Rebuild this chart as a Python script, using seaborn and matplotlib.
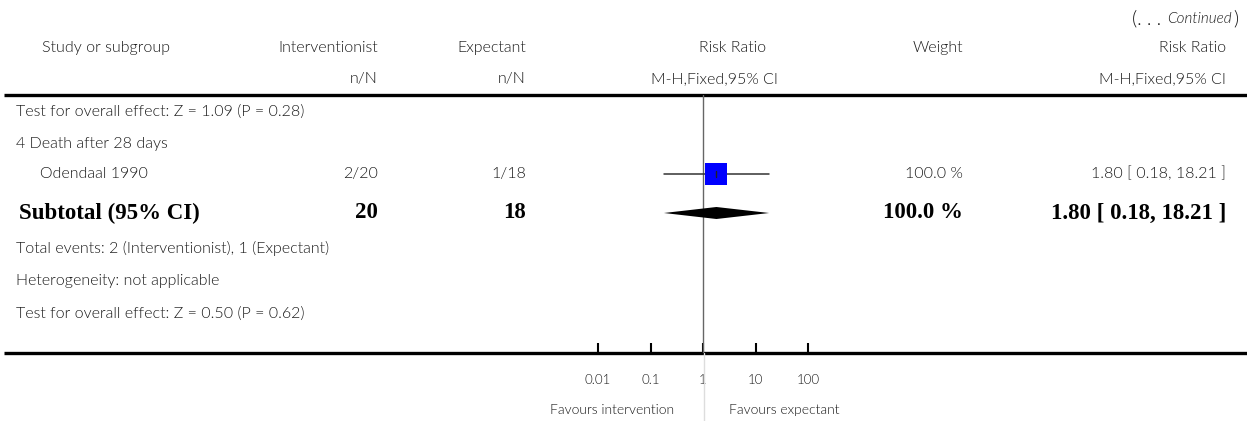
import matplotlib
matplotlib.use("Agg")
import matplotlib.pyplot as plt
import seaborn as sns
import numpy as np
import pandas as pd

# ---------------- data ----------------
study_names = ["Odendaal 1990"]
int_events = [2]
int_totals = [20]
exp_events = [1]
exp_totals = [18]
risk_ratios = [1.80]
ci_lows = [0.18]
ci_highs = [18.21]
weights = [100.0]

subtotal_int_n = 20
subtotal_exp_n = 18
subtotal_rr = 1.80
subtotal_low = 0.18
subtotal_high = 18.21
subtotal_weight = 100.0

tick_values = [0.01, 0.1, 1, 10, 100]
tick_labels = ["0.01", "0.1", "1", "10", "100"]

header1 = ["Study or subgroup", "Interventionist", "Expectant", "Risk Ratio", "Weight", "Risk Ratio"]
header2 = ["n/N", "n/N", "M-H,Fixed,95% CI", "M-H,Fixed,95% CI"]
prev_test = "Test for overall effect: Z = 1.09 (P = 0.28)"
subgroup_title = "4 Death after 28 days"
total_events_txt = "Total events: 2 (Interventionist), 1 (Expectant)"
heterogeneity_txt = "Heterogeneity: not applicable"
overall_test_txt = "Test for overall effect: Z = 0.50 (P = 0.62)"
fav_left = "Favours intervention"
fav_right = "Favours expectant"

# ---------------- figure ----------------
sns.set_theme(style="white")
plt.rcParams["font.family"] = ["Lato", "DejaVu Sans"]

W, H = 1247, 421
fig = plt.figure(figsize=(W / 100, H / 100), dpi=100)
bg = fig.add_axes([0, 0, 1, 1])
bg.set_xlim(0, W)
bg.set_ylim(H, 0)
bg.axis("off")

TXT = "#1a1a1a"
FS = 11.5
BFS = 16.5
REG = dict(fontsize=FS, color=TXT, fontweight=300)
serif_bold = dict(family=["Liberation Serif", "DejaVu Serif"], weight="bold", fontsize=BFS, color="black")

# column anchors (pixels)
X_STUDY_HDR = 42
X_LEFT = 16
X_STUDY = 40
X_INT = 378
X_EXP = 526
X_RR_HDR = 766
X_MH_HDR = 778
X_W = 963
X_RR = 1226

Y_H1, Y_H2 = 48, 79
Y_TOP_LINE, Y_BOT_LINE = 95, 353
rows = {"prev": 112, "sub": 144, "study": 174, "subtotal": 213,
        "events": 248, "het": 281, "test": 314}

# continued note
t_close = bg.text(1238, 19, ")", ha="right", va="center", fontsize=14, color=TXT, fontweight=300)
t_cont = bg.annotate("Continued", xy=(0, 0.5), xycoords=t_close, xytext=(-0.5, 0),
                     textcoords="offset points", ha="right", va="center", fontsize=11,
                     style="italic", color=TXT, fontweight=300)
bg.annotate("(. . . ", xy=(0, 0.5), xycoords=t_cont, xytext=(-1, 0), textcoords="offset points",
            ha="right", va="center", fontsize=14, color=TXT, fontweight=300)

# headers
bg.text(X_STUDY_HDR, Y_H1, header1[0], ha="left", va="center", **REG)
bg.text(X_INT, Y_H1, header1[1], ha="right", va="center", **REG)
bg.text(X_EXP, Y_H1, header1[2], ha="right", va="center", **REG)
bg.text(X_RR_HDR, Y_H1, header1[3], ha="right", va="center", **REG)
bg.text(X_W, Y_H1, header1[4], ha="right", va="center", **REG)
bg.text(X_RR, Y_H1, header1[5], ha="right", va="center", **REG)
bg.text(X_INT, Y_H2, header2[0], ha="right", va="center", **REG)
bg.text(X_EXP, Y_H2, header2[1], ha="right", va="center", **REG)
bg.text(X_MH_HDR, Y_H2, header2[2], ha="right", va="center", **REG)
bg.text(X_RR, Y_H2, header2[3], ha="right", va="center", **REG)

# thick rules
bg.plot([4, W], [Y_TOP_LINE, Y_TOP_LINE], color="black", lw=2.4, solid_capstyle="butt")
bg.plot([4, W], [Y_BOT_LINE, Y_BOT_LINE], color="black", lw=2.4, solid_capstyle="butt")

# left text rows
bg.text(X_LEFT, rows["prev"], prev_test, ha="left", va="center", **REG)
bg.text(X_LEFT, rows["sub"], subgroup_title, ha="left", va="center", **REG)
for i, name in enumerate(study_names):
    y = rows["study"]
    bg.text(X_STUDY, y, name, ha="left", va="center", **REG)
    bg.text(X_INT, y, f"{int_events[i]}/{int_totals[i]}", ha="right", va="center", **REG)
    bg.text(X_EXP, y, f"{exp_events[i]}/{exp_totals[i]}", ha="right", va="center", **REG)
    bg.text(X_W, y, f"{weights[i]:.1f} %", ha="right", va="center", **REG)
    bg.text(X_RR, y, f"{risk_ratios[i]:.2f} [ {ci_lows[i]:.2f}, {ci_highs[i]:.2f} ]",
            ha="right", va="center", **REG)

ys = rows["subtotal"]
bg.text(X_LEFT + 3, ys, "Subtotal (95% CI)", ha="left", va="center", **serif_bold)
bg.text(X_INT, ys, f"{subtotal_int_n}", ha="right", va="center", **serif_bold)
bg.text(X_EXP, ys, f"{subtotal_exp_n}", ha="right", va="center", **serif_bold)
bg.text(X_W, ys, f"{subtotal_weight:.1f} %", ha="right", va="center", **serif_bold)
bg.text(X_RR, ys, f"{subtotal_rr:.2f} [ {subtotal_low:.2f}, {subtotal_high:.2f} ]",
        ha="right", va="center", **serif_bold)

bg.text(X_LEFT, rows["events"], total_events_txt, ha="left", va="center", **REG)
bg.text(X_LEFT, rows["het"], heterogeneity_txt, ha="left", va="center", **REG)
bg.text(X_LEFT, rows["test"], overall_test_txt, ha="left", va="center", **REG)

# ---------------- forest axes (log scale) ----------------
PX_PER_DEC = 52.5
X_ONE = 703
PX0, PX1 = 560, 860
ax = fig.add_axes([PX0 / W, (H - Y_BOT_LINE) / H, (PX1 - PX0) / W, (Y_BOT_LINE - Y_TOP_LINE) / H])
ax.set_xscale("log")
ax.set_xlim(10 ** ((PX0 - X_ONE) / PX_PER_DEC), 10 ** ((PX1 - X_ONE) / PX_PER_DEC))
ax.set_ylim(Y_BOT_LINE, Y_TOP_LINE)
ax.patch.set_alpha(0)
for s in ax.spines.values():
    s.set_visible(False)

# line of no effect
ax.axvline(1, color="#666666", lw=1, zorder=1)
ax.plot([1.03, 1.03], [Y_BOT_LINE, H], color="#dddddd", lw=1, clip_on=False, zorder=1)

# study CI and box
df = pd.DataFrame({"rr": risk_ratios, "lo": ci_lows, "hi": ci_highs, "w": weights,
                   "y": [rows["study"]] * len(risk_ratios)})
for _, r in df.iterrows():
    ax.plot([r["lo"], r["hi"]], [r["y"], r["y"]], color="#333333", lw=1.1, zorder=2)
sns.scatterplot(data=df, x="rr", y="y", marker="s", s=df["w"] * 2.5, color="#0000ff",
                edgecolor="none", legend=False, ax=ax, zorder=3)
for _, r in df.iterrows():
    ax.plot([r["rr"], r["rr"]], [r["y"] - 3, r["y"] + 3], color="#222222", lw=1, zorder=4)

# subtotal diamond
dh = 6
ax.fill([subtotal_low, subtotal_rr, subtotal_high, subtotal_rr],
        [ys, ys - dh, ys, ys + dh], color="black", lw=0, zorder=3)

ax.set_xticks(tick_values)
ax.set_xticklabels(tick_labels)
ax.minorticks_off()
ax.tick_params(axis="x", direction="in", length=7, width=1.5, color="black",
               labelsize=9.5, labelcolor=TXT, pad=15, bottom=True)
for lab in ax.get_xticklabels():
    lab.set_fontweight(300)
ax.set_yticks([])
ax.set_xlabel("")
ax.set_ylabel("")

bg.text(674, 410, fav_left, ha="right", va="center", fontsize=10, color=TXT, fontweight=300)
bg.text(729, 410, fav_right, ha="left", va="center", fontsize=10, color=TXT, fontweight=300)

fig.savefig("out.png", dpi=100)
